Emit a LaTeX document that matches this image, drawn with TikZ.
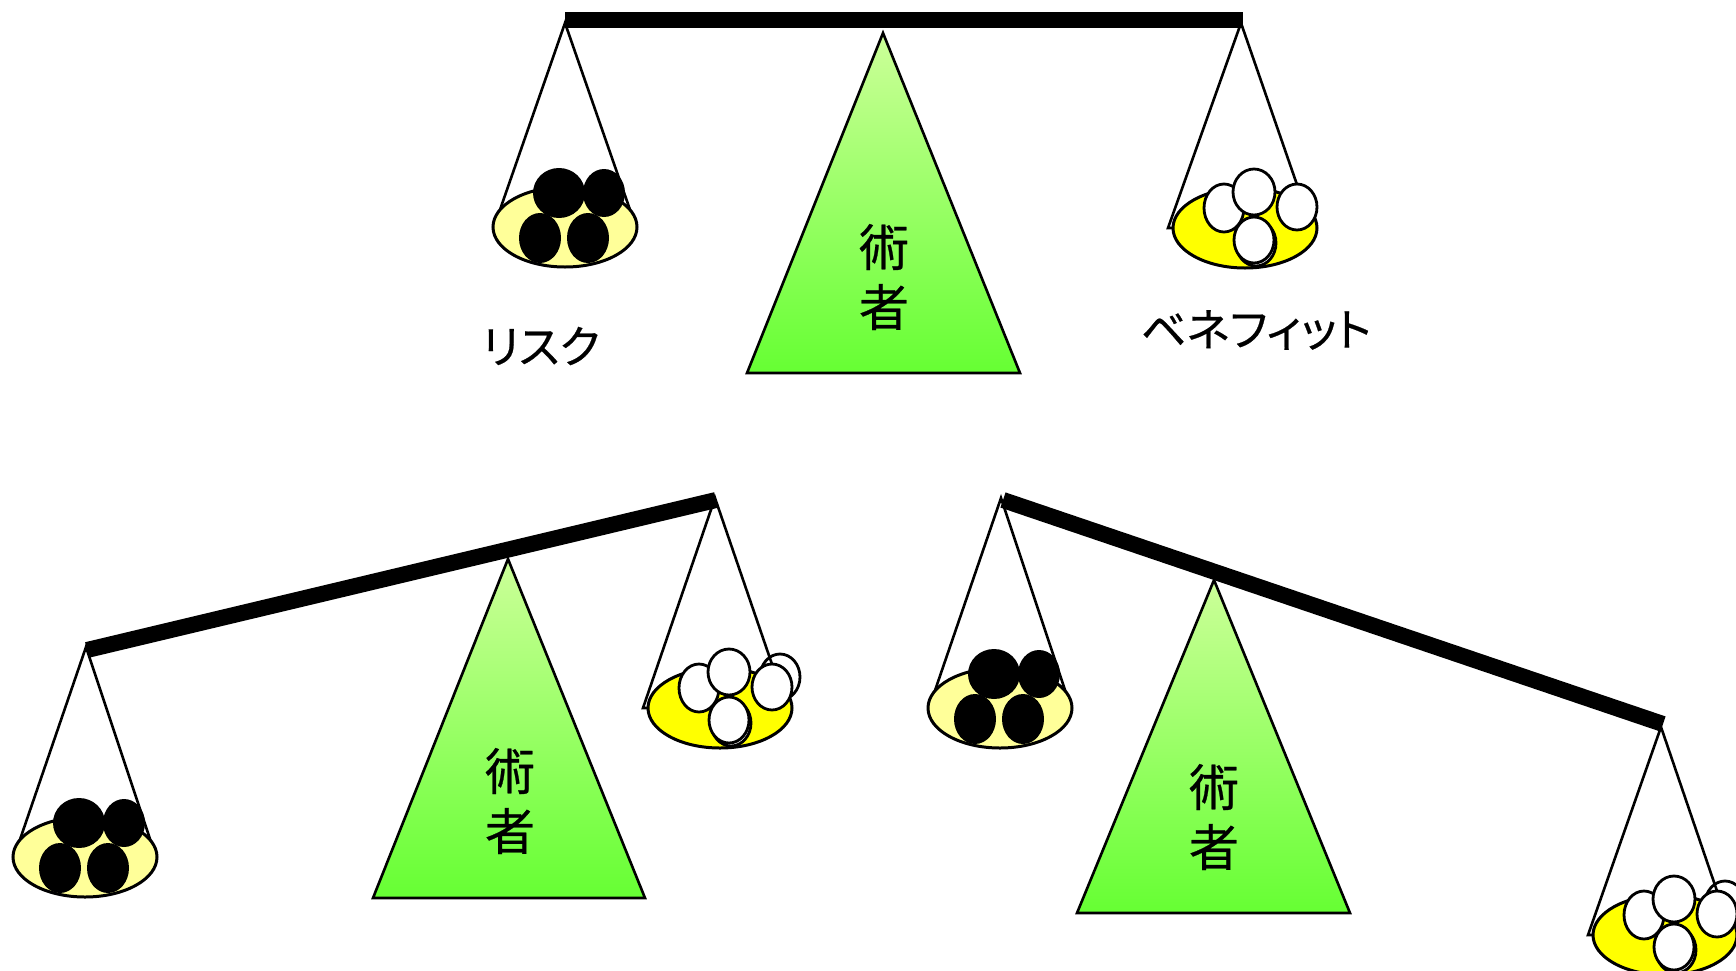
\documentclass[tikz,border=0pt]{standalone}
\usepackage{fontspec}
\newfontfamily\jp[RawFeature=+palt, FakeBold=0.5]{Noto Sans CJK JP}

\definecolor{paleyellow}{HTML}{FFFF99}
\definecolor{brightyellow}{HTML}{FFFF00}
\definecolor{fulcrumtop}{HTML}{CCFF99}
\definecolor{fulcrumbottom}{HTML}{66FF33}

\tikzset{
  string/.style={draw=black, line width=1.3pt, line join=miter},
  panrim/.style={draw=black, line width=1.5pt},
  beam/.style={line width=8pt, line cap=butt},
  fulcrum/.style={draw=black, line width=1.3pt, top color=fulcrumtop, bottom color=fulcrumbottom},
  whiteball/.style={draw=black, fill=white, line width=1.4pt},
  kanji/.style={font=\jp\fontsize{25}{30}\selectfont, align=center, inner sep=0pt},
  caption/.style={font=\jp\fontsize{22.5}{27}\selectfont, inner sep=0pt},
}

% pan holding four black weights: #1,#2 = rim centre, #3 = hanging point
\newcommand{\riskpan}[3]{%
  \begin{scope}[shift={(#1,#2)}]
    \draw[string] (#3) -- (-71,0) -- (71,0) -- cycle;
    \draw[panrim, fill=paleyellow] (0,0) ellipse [x radius=72, y radius=40];
    \fill (-25,11) ellipse [x radius=21, y radius=25];
    \fill (23,11) ellipse [x radius=21, y radius=25];
    \fill (-6,-34) ellipse [x radius=26, y radius=25];
    \fill (39,-34) ellipse [x radius=21, y radius=24];
  \end{scope}}

% pan holding white weights: #1,#2 = rim centre, #3 = hanging point
\newcommand{\benefitpan}[3]{%
  \begin{scope}[shift={(#1,#2)}]
    \draw[string] (#3) -- (-77,0) -- (67,0) -- cycle;
    \draw[panrim, fill=brightyellow] (0,0) ellipse [x radius=72, y radius=40];
    \draw[whiteball] (11,15) ellipse [x radius=20, y radius=23];
    \draw[whiteball] (-21,-20) ellipse [x radius=20, y radius=24];
    \draw[whiteball] (9,-36) ellipse [x radius=21, y radius=23];
    \draw[whiteball] (52,-21) ellipse [x radius=20, y radius=23];
    \draw[whiteball] (9,12) ellipse [x radius=20, y radius=23];
  \end{scope}}

\begin{document}
\begin{tikzpicture}[x=0.5pt, y=-0.5pt]
  \useasboundingbox (0,0) rectangle (1736,970);

  % ---------- level balance (top) ----------
  \draw[fulcrum] (883,33) -- (747,373) -- (1020,373) -- cycle;
  \node[kanji] (surgeonA) at (884,277) {術\\者};
  \coordinate (beamAl) at (565,19.5);
  \coordinate (beamAr) at (1243,19.5);
  \coordinate (hangAl) at (565,23);
  \coordinate (hangAr) at (1241,23);
  \riskpan{565}{227}{hangAl}
  \benefitpan{1245}{228}{hangAr}
  \draw[beam] (beamAl) -- (beamAr);
  \node[caption] (risk) at (541,346) {リスク};
  \node[caption] (benefit) at (1256,330) {ベネフィット};

  % ---------- balance tipped to the risk side (bottom left) ----------
  \draw[fulcrum] (508,559) -- (373,898) -- (645,898) -- cycle;
  \node[kanji] (surgeonB) at (510,801) {術\\者};
  \coordinate (beamBl) at (87,650);
  \coordinate (beamBr) at (716,500);
  \coordinate (hangBl) at (86,647);
  \coordinate (hangBr) at (715,498);
  \riskpan{85}{857}{hangBl}
  \begin{scope}[shift={(720,708)}]
    \draw[whiteball] (60,-31) ellipse [x radius=20, y radius=23];
  \end{scope}
  \benefitpan{720}{708}{hangBr}
  \draw[beam] (beamBl) -- (beamBr);

  % ---------- balance tipped to the benefit side (bottom right) ----------
  \draw[fulcrum] (1214,580) -- (1077,913) -- (1350,913) -- cycle;
  \node[kanji] (surgeonC) at (1214,817) {術\\者};
  \coordinate (beamCl) at (1003,500);
  \coordinate (beamCr) at (1663,724);
  \coordinate (hangCl) at (1001,498);
  \coordinate (hangCr) at (1661,727);
  \riskpan{1000}{708}{hangCl}
  \begin{scope}[shift={(1665,935)}]
    \draw[whiteball] (60,-31) ellipse [x radius=20, y radius=23];
  \end{scope}
  \benefitpan{1665}{935}{hangCr}
  \draw[beam] (beamCl) -- (beamCr);
\end{tikzpicture}
\end{document}
